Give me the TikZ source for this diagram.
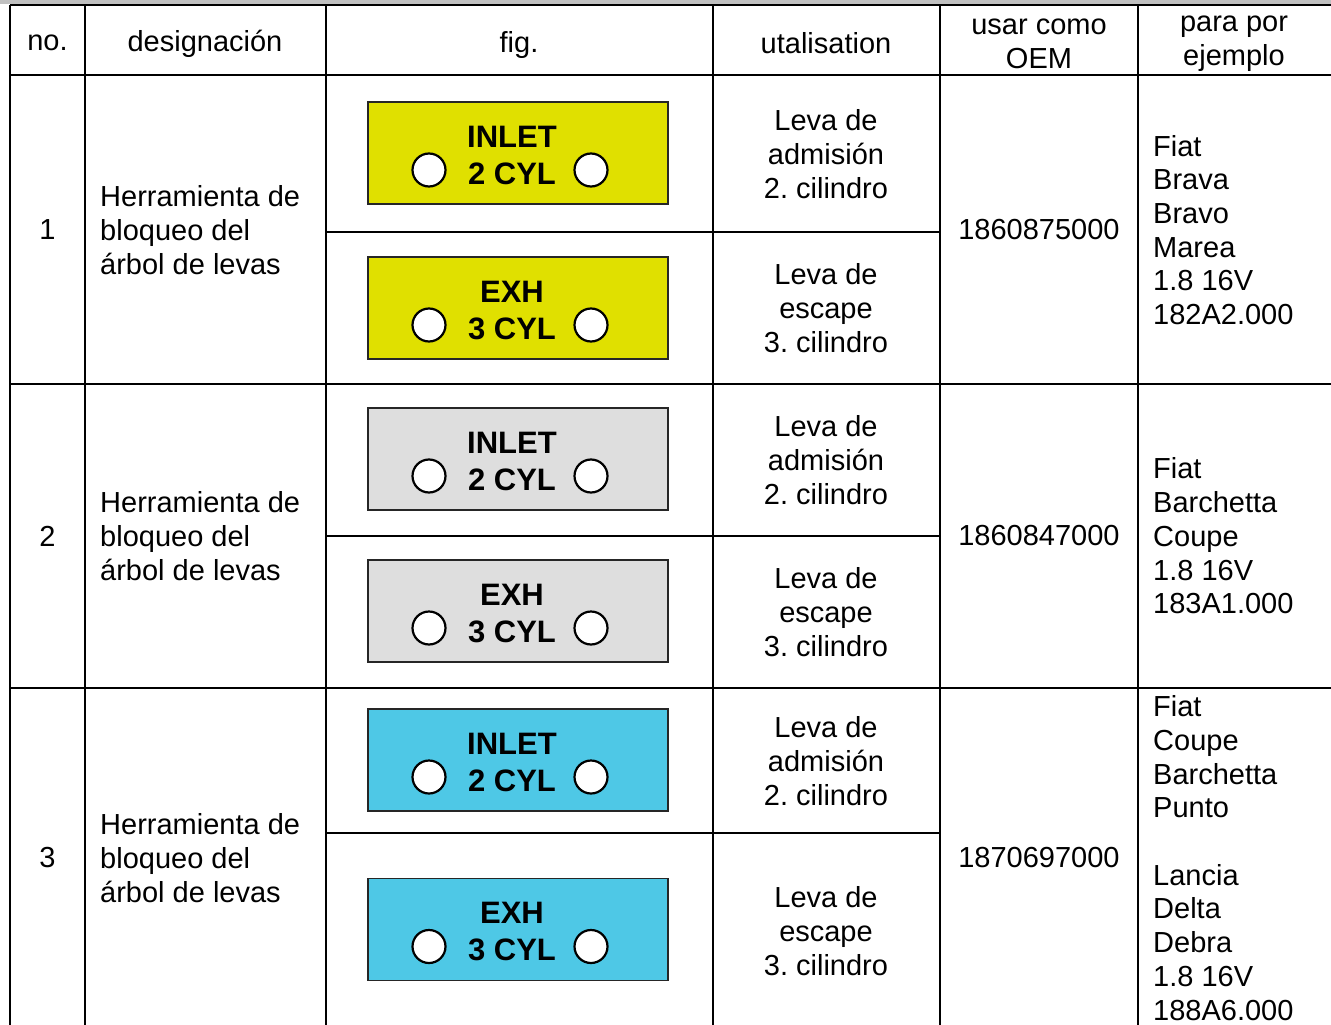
\documentclass[tikz,border=0pt]{standalone}
\usepackage{fontspec}
\setmainfont{Liberation Sans}
\usepackage{xcolor}
\usetikzlibrary{positioning}
\definecolor{plateyellow}{RGB}{224,224,0}
\definecolor{plategray}{RGB}{222,222,222}
\definecolor{plateblue}{RGB}{78,200,230}
\definecolor{bandgray}{RGB}{192,192,192}
\frenchspacing

\begin{document}
\begin{tikzpicture}[x=1pt,y=-1pt,
	cell/.style={align=center,font=\fontsize{29}{33.7}\selectfont,inner sep=0pt},
	leftcell/.style={cell,align=left,anchor=west},
	plate/.style={draw=black!85,line width=1.6pt,minimum width=300pt,minimum height=102pt,inner sep=0pt},
	platetext/.style={align=center,font=\fontsize{31}{37}\selectfont\bfseries,inner sep=0pt},
	hole/.style={circle,draw=black,fill=white,line width=2.2pt,minimum size=33pt,inner sep=0pt},
	rule/.style={line width=2.2pt}]
			\useasboundingbox (0,0) rectangle (1331,1025);
			\fill[bandgray] (0,0) rectangle (1331,4.5);
			
			% grid
			\draw[rule] (10,5) -- (1331,5);
			\draw[rule] (10,75) -- (1331,75);
			\draw[rule] (10,384) -- (1331,384);
			\draw[rule] (10,688) -- (1331,688);
			\draw[rule] (326,232) -- (940,232);
			\draw[rule] (326,536) -- (940,536);
			\draw[rule] (326,833) -- (940,833);
			\draw[rule] (10,5) -- (10,1025);
			\draw[rule] (85,5) -- (85,1025);
			\draw[rule] (326,5) -- (326,1025);
			\draw[rule] (713,5) -- (713,1025);
			\draw[rule] (940,5) -- (940,1025);
			\draw[rule] (1138,5) -- (1138,1025);
			
			% header
			\node[cell] (h-no) at (47.5,43) {no.};
			\node[cell] (h-des) at (205,44) {designación};
			\node[cell] (h-fig) at (519,45) {fig.};
			\node[cell] (h-uti) at (826,43) {utalisation};
			\node[cell] (h-oem) at (1039,44) {usar como\\OEM};
			\node[cell] (h-ej) at (1234,44) {para por\\ejemplo};
			
			% row 1
			\node[cell] (n-1) at (47.5,230) {1};
			\node[leftcell] (d-1) at (100,230) {Herramienta de\\bloqueo del\\árbol de levas};
			\node[cell] (u-1a) at (826,154) {Leva de\\admisión\\2. cilindro};
			\node[cell] (u-1b) at (826,308) {Leva de\\escape\\3. cilindro};
			\node[cell] (o-1) at (1039,230) {1860875000};
			\node[leftcell] (e-1) at (1153,230) {Fiat\\Brava\\Bravo\\Marea\\1.8 16V\\182A2.000};
			\node[plate,fill=plateyellow] (p-1a) at (518,153) {};
			\node[platetext] (t-1a) at (512,155.5) {INLET\\2 CYL};
			\node[hole] (l-1a) at (429,170) {};
			\node[hole] (r-1a) at (591,170) {};
			\node[plate,fill=plateyellow] (p-1b) at (518,308) {};
			\node[platetext] (t-1b) at (512,310.5) {EXH\\3 CYL};
			\node[hole] (l-1b) at (429,325) {};
			\node[hole] (r-1b) at (591,325) {};
			
			% row 2
			\node[cell] (n-2) at (47.5,536) {2};
			\node[leftcell] (d-2) at (100,536) {Herramienta de\\bloqueo del\\árbol de levas};
			\node[cell] (u-2a) at (826,460) {Leva de\\admisión\\2. cilindro};
			\node[cell] (u-2b) at (826,612) {Leva de\\escape\\3. cilindro};
			\node[cell] (o-2) at (1039,536) {1860847000};
			\node[leftcell] (e-2) at (1153,536) {Fiat\\Barchetta\\Coupe\\1.8 16V\\183A1.000};
			\node[plate,fill=plategray] (p-2a) at (518,459) {};
			\node[platetext] (t-2a) at (512,461.5) {INLET\\2 CYL};
			\node[hole] (l-2a) at (429,476) {};
			\node[hole] (r-2a) at (591,476) {};
			\node[plate,fill=plategray] (p-2b) at (518,611) {};
			\node[platetext] (t-2b) at (512,613.5) {EXH\\3 CYL};
			\node[hole] (l-2b) at (429,628) {};
			\node[hole] (r-2b) at (591,628) {};
			
			% row 3
			\node[cell] (n-3) at (47.5,858) {3};
			\node[leftcell] (d-3) at (100,858) {Herramienta de\\bloqueo del\\árbol de levas};
			\node[cell] (u-3a) at (826,761) {Leva de\\admisión\\2. cilindro};
			\node[cell] (u-3b) at (826,931) {Leva de\\escape\\3. cilindro};
			\node[cell] (o-3) at (1039,858) {1870697000};
			\node[leftcell] (e-3) at (1153,858) {Fiat\\Coupe\\Barchetta\\Punto\\~\\Lancia\\Delta\\Debra\\1.8 16V\\188A6.000};
			\node[plate,fill=plateblue] (p-3a) at (518,760) {};
			\node[platetext] (t-3a) at (512,762.5) {INLET\\2 CYL};
			\node[hole] (l-3a) at (429,777) {};
			\node[hole] (r-3a) at (591,777) {};
			\node[plate,fill=plateblue] (p-3b) at (518,929.5) {};
			\node[platetext] (t-3b) at (512,932) {EXH\\3 CYL};
			\node[hole] (l-3b) at (429,946.5) {};
			\node[hole] (r-3b) at (591,946.5) {};
\end{tikzpicture}
\end{document}
